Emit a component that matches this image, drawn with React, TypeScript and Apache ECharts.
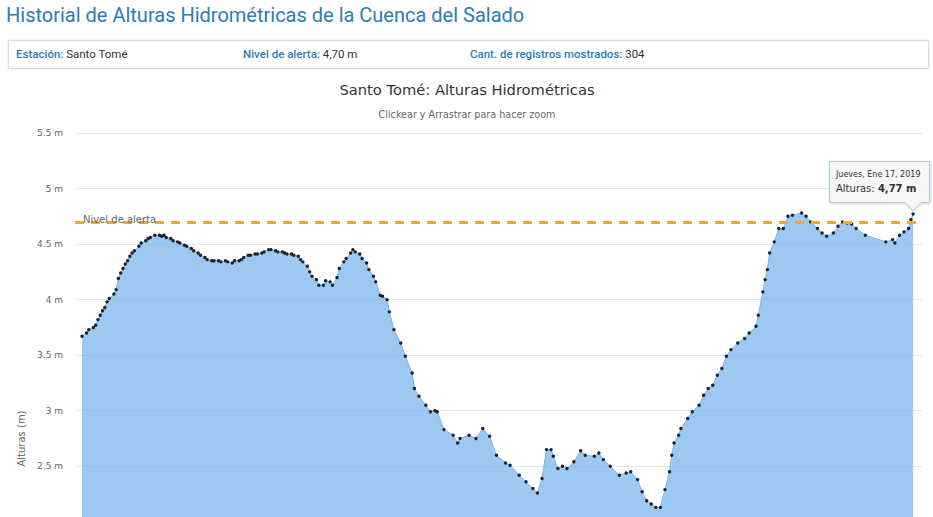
import React, { useEffect, useRef } from "react";
import * as echarts from "echarts";

const START = Date.UTC(2018, 0, 17);
const DAY = 86400000;

// day offsets from START for each record shown
const dayOffsets = [
  0, 2, 3, 5, 6, 7, 8, 9, 10, 11,
  12, 14, 15, 16, 17, 18, 19, 20, 21, 22,
  23, 25, 26, 28, 29, 30, 32, 34, 35, 36,
  37, 39, 40, 42, 43, 45, 46, 48, 49, 51,
  52, 54, 55, 57, 58, 60, 61, 63, 64, 66,
  67, 69, 70, 71, 73, 74, 76, 77, 79, 80,
  82, 83, 85, 86, 88, 89, 90, 92, 93, 95,
  96, 97, 99, 100, 101, 103, 104, 106, 107, 109,
  110, 112, 113, 115, 116, 118, 119, 120, 122, 123,
  125, 126, 128, 129, 131, 132, 134,
  135, 137, 140, 142, 145, 146,
  148, 151, 153, 155, 156, 159, 163, 165, 166, 170,
  173, 176, 179, 182, 186, 188, 192, 195, 198, 200,
  202, 204, 206, 207, 209, 211, 213, 216, 219, 221,
  225, 227, 229, 232, 236, 239, 241, 244, 246, 248,
  250, 252, 254, 256, 258, 259, 260, 262, 263, 266,
  268, 271, 273, 275, 277, 279, 281, 283, 285, 288,
  291, 293, 296, 297, 299, 300, 301, 302, 304, 306,
  308, 310, 312, 316, 318, 320, 323, 325, 327, 330,
  332, 334, 336, 338, 340, 344, 353, 356, 357, 359,
  361, 363, 364, 365,
];

// heights (m)
const heights = [
  3.67, 3.7, 3.73, 3.75, 3.77, 3.82, 3.86, 3.9, 3.93, 3.98,
  4.01, 4.05, 4.09, 4.19, 4.24, 4.28, 4.32, 4.35, 4.39, 4.42,
  4.44, 4.48, 4.51, 4.53, 4.55, 4.56, 4.58, 4.58, 4.57, 4.58,
  4.56, 4.55, 4.53, 4.52, 4.51, 4.49, 4.48, 4.46, 4.44, 4.42,
  4.4, 4.38, 4.36, 4.35, 4.35, 4.35, 4.34, 4.35, 4.34, 4.33,
  4.35, 4.35, 4.36, 4.38, 4.4, 4.4, 4.41, 4.41, 4.42, 4.43,
  4.45, 4.45, 4.44, 4.43, 4.43, 4.42, 4.41, 4.41, 4.4, 4.39,
  4.36, 4.34, 4.3, 4.25, 4.21, 4.18, 4.13, 4.13, 4.17, 4.16,
  4.13, 4.2, 4.28, 4.34, 4.37, 4.42, 4.45, 4.43, 4.41, 4.37,
  4.33, 4.27, 4.21, 4.16, 4.04, 4.03, 4.0,
  3.89, 3.73, 3.61, 3.49, 3.34, 3.2,
  3.13, 3.05, 2.99, 3.0, 2.99, 2.83, 2.78, 2.71, 2.75, 2.78,
  2.75, 2.84, 2.77, 2.6, 2.53, 2.51, 2.42, 2.36, 2.3, 2.26,
  2.39, 2.65, 2.65, 2.59, 2.48, 2.5, 2.48, 2.54, 2.64, 2.6,
  2.59, 2.62, 2.56, 2.5, 2.42, 2.44, 2.45, 2.38, 2.27, 2.19,
  2.16, 2.13, 2.13, 2.29, 2.45, 2.6, 2.71, 2.78, 2.84, 2.93,
  2.99, 3.05, 3.14, 3.2, 3.23, 3.32, 3.38, 3.49, 3.55, 3.61,
  3.65, 3.7, 3.76, 3.86, 4.07, 4.18, 4.27, 4.42, 4.52, 4.64,
  4.64, 4.75, 4.76, 4.78, 4.75, 4.7, 4.64, 4.6, 4.57, 4.6,
  4.66, 4.7, 4.69, 4.68, 4.64, 4.58, 4.52, 4.54, 4.51, 4.58,
  4.61, 4.64, 4.72, 4.77,
];

const ALERT_LEVEL = 4.7;
const Y_MIN = 0;
const Y_MAX = 5.5;
const Y_INTERVAL = 0.5;
const Y_LOWEST_VISIBLE_LABEL = 2.5;

const PAGE_TITLE = "Historial de Alturas Hidrométricas de la Cuenca del Salado";
const CHART_TITLE = "Santo Tomé: Alturas Hidrométricas";
const CHART_SUBTITLE = "Clickear y Arrastrar para hacer zoom";
const TOOLTIP_DATE = "Jueves, Ene 17, 2019";
const TOOLTIP_VALUE = "4,77 m";

const CHART_FONT = "'DejaVu Sans', Verdana, sans-serif";
const HEAD_FONT = "Roboto, 'Noto Sans', sans-serif";
const TEAL = "#2a7db5";

export default function App() {
  const ref = useRef<HTMLDivElement>(null);
  useEffect(() => {
    if (!ref.current) return;
    const chart = echarts.init(ref.current, null, { renderer: "svg" });
    const data = dayOffsets.map((d, i) => [START + d * DAY, heights[i]]);
    const first = START + dayOffsets[0] * DAY;
    const last = START + dayOffsets[dayOffsets.length - 1] * DAY;

    const infoText = (label: string, value: string, x: number) => ({
      type: "text",
      x,
      y: 54,
      style: {
        text: `{b|${label}} ${value}`,
        verticalAlign: "middle",
        fill: "#333",
        font: `11.5px ${HEAD_FONT}`,
        rich: { b: { fill: TEAL, fontWeight: 500, fontSize: 11.5, fontFamily: HEAD_FONT } },
      },
    });

    chart.setOption({
      animation: false,
      backgroundColor: "#fff",
      grid: { left: 75, right: 11, top: 133, bottom: 56, containLabel: false },
      xAxis: {
        type: "time",
        min: first - 3.07 * DAY,
        max: last + 3.9 * DAY,
        axisLine: { show: true, lineStyle: { color: "#ccd6eb" } },
        axisTick: { show: false },
        splitLine: { show: false },
        axisLabel: { show: false },
      },
      yAxis: {
        type: "value",
        min: Y_MIN,
        max: Y_MAX,
        interval: Y_INTERVAL,
        name: "Alturas (m)",
        nameLocation: "middle",
        nameGap: 44,
        nameTextStyle: { color: "#666", fontSize: 10, fontFamily: CHART_FONT },
        axisLine: { show: false },
        axisTick: { show: false },
        axisLabel: {
          margin: 12,
          color: "#666",
          fontSize: 9,
          fontFamily: CHART_FONT,
          formatter: (v: number) => (v >= Y_LOWEST_VISIBLE_LABEL ? `${v} m` : ""),
        },
        splitLine: { lineStyle: { color: "#e6e6e6", width: 1 } },
      },
      series: [
        {
          type: "line",
          data,
          showSymbol: true,
          symbol: "circle",
          symbolSize: 3.4,
          itemStyle: { color: "#1e2329" },
          lineStyle: { color: "#7cb5ec", width: 1 },
          areaStyle: { color: "#7cb5ec", opacity: 0.75 },
          markLine: {
            silent: true,
            symbol: "none",
            lineStyle: { color: "#f0a830", type: [9, 7], width: 3 },
            label: {
              show: true,
              position: "insideStartTop",
              formatter: "Nivel de alerta",
              color: "#666",
              fontSize: 10,
              fontFamily: CHART_FONT,
              distance: [8, -3],
            },
            data: [{ yAxis: ALERT_LEVEL }],
          },
        },
      ],
      graphic: [
        {
          type: "text",
          left: 6,
          top: 5,
          style: { text: PAGE_TITLE, fill: TEAL, font: `20px ${HEAD_FONT}` },
        },
        {
          type: "rect",
          shape: { x: 8.5, y: 40.5, width: 920, height: 28 },
          style: { fill: "#fff", stroke: "#dadada", lineWidth: 1, shadowBlur: 2, shadowColor: "rgba(0,0,0,0.08)" },
        },
        infoText("Estación:", "Santo Tomé", 16),
        infoText("Nivel de alerta:", "4,70 m", 243),
        infoText("Cant. de registros mostrados:", "304", 470),
        {
          type: "text",
          x: 467,
          y: 89,
          style: { text: CHART_TITLE, align: "center", verticalAlign: "middle", fill: "#333", font: `14.7px ${CHART_FONT}` },
        },
        {
          type: "text",
          x: 467,
          y: 114,
          style: { text: CHART_SUBTITLE, align: "center", verticalAlign: "middle", fill: "#666", font: `9.6px ${CHART_FONT}` },
        },
        {
          type: "polygon",
          z: 100,
          shape: {
            points: [
              [829.5, 161.5], [929.5, 161.5], [929.5, 202.5], [921, 202.5],
              [913, 210.5], [905, 202.5], [829.5, 202.5],
            ],
          },
          style: { fill: "rgba(247,247,247,0.9)", stroke: "#a9c6e3", lineWidth: 1, shadowBlur: 3, shadowColor: "rgba(0,0,0,0.15)", shadowOffsetX: 1, shadowOffsetY: 1 },
        },
        {
          type: "text",
          z: 101,
          x: 836,
          y: 174,
          style: { text: TOOLTIP_DATE, verticalAlign: "middle", fill: "#333", font: `8px ${CHART_FONT}` },
        },
        {
          type: "text",
          z: 101,
          x: 836,
          y: 188,
          style: {
            text: "Alturas: {b|" + TOOLTIP_VALUE + "}",
            verticalAlign: "middle",
            fill: "#333",
            font: `10px ${CHART_FONT}`,
            rich: { b: { fontWeight: "bold", fontSize: 10, fontFamily: CHART_FONT, fill: "#333" } },
          },
        },
      ],
    });
    return () => chart.dispose();
  }, []);

  return (
    <div style={{ position: "fixed", left: 0, top: 0, width: 933, height: 517, overflow: "hidden", background: "#fff" }}>
      <div ref={ref} style={{ width: 933, height: 800 }} />
    </div>
  );
}
